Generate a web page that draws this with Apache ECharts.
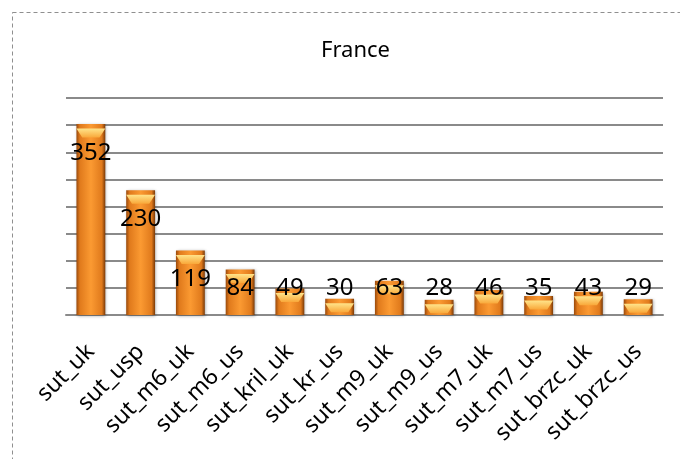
<!DOCTYPE html>
<html>
<head>
<meta charset="utf-8">
<script src="https://cdn.jsdelivr.net/npm/echarts@6/dist/echarts.min.js"></script>
<style>
  html, body { margin: 0; padding: 0; background: #fff; }
</style>
</head>
<body>
<div id="france-chart" style="width:680px;height:459px"></div>
<script>
var categories = ["sut_uk", "sut_usp", "sut_m6_uk", "sut_m6_us", "sut_kril_uk", "sut_kr_us",
  "sut_m9_uk", "sut_m9_us", "sut_m7_uk", "sut_m7_us", "sut_brzc_uk", "sut_brzc_us"];
var values = [352, 230, 119, 84, 49, 30, 63, 28, 46, 35, 43, 29];

var chart = echarts.init(document.getElementById("france-chart"));

// orange bar look: dark edges, bright middle
var barColor = new echarts.graphic.LinearGradient(0, 0, 1, 0, [
  { offset: 0, color: "#9a4a0c" },
  { offset: 0.12, color: "#e07a1c" },
  { offset: 0.5, color: "#fb9a32" },
  { offset: 0.88, color: "#e07a1c" },
  { offset: 1, color: "#7a3a08" }
]);
// light bevel on the top of each bar
var bevelColor = new echarts.graphic.LinearGradient(0, 0, 0, 1, [
  { offset: 0, color: "#ffe48a" },
  { offset: 1, color: "#f9a83a" }
]);

// big bars get the label near the top, small ones sit above the axis
var labelData = values.map(function (v) {
  return {
    value: v,
    label: v > 100
      ? { position: "insideTop", distance: 17 }
      : { position: "insideBottom", distance: 15 }
  };
});

var option = {
  animation: false,
  title: {
    text: "France",
    left: 316,
    top: 35,
    textStyle: {
      fontFamily: "Noto Sans",
      fontSize: 22,
      fontWeight: "normal",
      color: "#000"
    }
  },
  graphic: [
    {
      type: "rect",
      shape: { x: 12.5, y: 12.5, width: 700, height: 480 },
      style: { fill: null, stroke: "#8f8f8f", lineWidth: 1, lineDash: [4, 3] },
      silent: true
    }
  ],
  grid: {
    left: 66,
    right: 17,
    top: 98,
    bottom: 144
  },
  xAxis: {
    type: "category",
    data: categories,
    axisLine: {
      show: true,
      lineStyle: { color: "#8a8a8a", width: 2 }
    },
    axisTick: { show: false },
    axisLabel: {
      interval: 0,
      rotate: 45,
      margin: 33,
      fontFamily: "Noto Sans",
      fontSize: 23,
      color: "#000"
    }
  },
  yAxis: {
    type: "value",
    min: 0,
    max: 400,
    interval: 50,
    axisLine: { show: false },
    axisTick: { show: false },
    axisLabel: { show: false },
    splitLine: {
      lineStyle: { color: "#8a8a8a", width: 2 }
    }
  },
  series: [
    {
      type: "bar",
      barWidth: "58%",
      barGap: "-100%",
      data: values,
      itemStyle: {
        color: barColor,
        shadowColor: "rgba(0,0,0,0.35)",
        shadowBlur: 3,
        shadowOffsetX: 1,
        shadowOffsetY: 1
      },
      z: 2
    },
    {
      type: "pictorialBar",
      barWidth: "58%",
      data: values,
      symbol: "path://M0,0 L20,0 L16,6 L4,6 Z",
      symbolSize: ["100%", 9],
      symbolPosition: "end",
      symbolOffset: [0, "50%"],
      itemStyle: { color: bevelColor },
      silent: true,
      z: 3
    },
    {
      // transparent copy carrying the value labels on top of everything
      type: "bar",
      barWidth: "58%",
      barGap: "-100%",
      data: labelData,
      itemStyle: { color: "transparent" },
      label: {
        show: true,
        fontFamily: "Noto Sans",
        fontSize: 24,
        color: "#000"
      },
      silent: true,
      z: 4
    }
  ]
};

chart.setOption(option);
</script>
</body>
</html>
